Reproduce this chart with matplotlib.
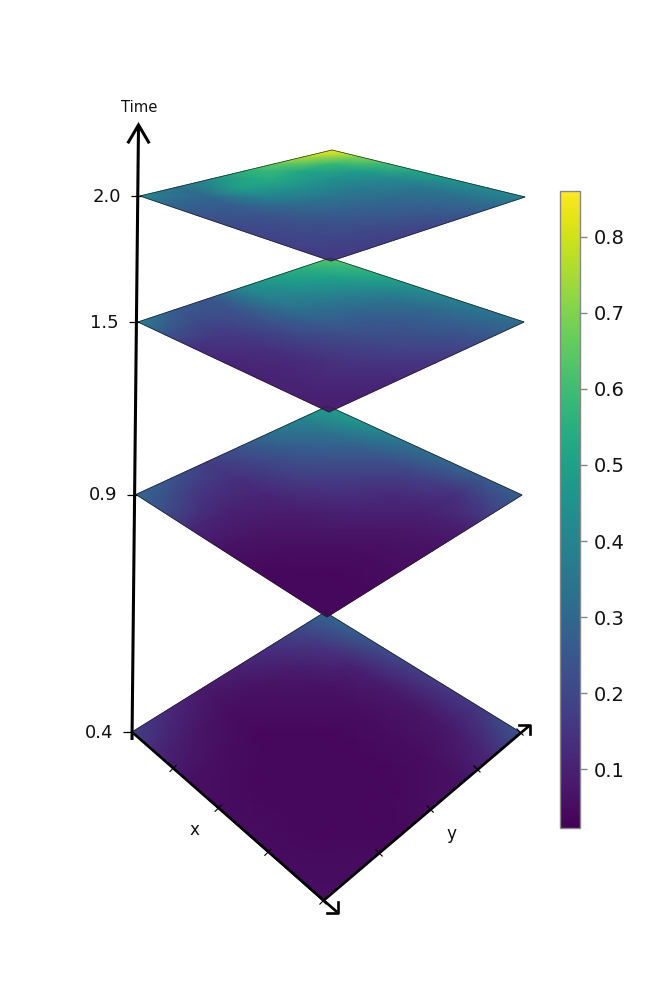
import numpy as np
import matplotlib
matplotlib.use("Agg")
import matplotlib.pyplot as plt

# ---- data ----
time_labels = ["0.4", "0.9", "1.5", "2.0"]
grid_x = [0, 1/6, 2/6, 3/6, 4/6, 5/6, 1]
grid_y = [0, 1/6, 2/6, 3/6, 4/6, 5/6, 1]
x_ticks = [0.25, 0.5, 0.75, 1.0]
y_ticks = [0.0, 0.25, 0.5, 0.75, 1.0]
cbar_ticks = [0.1, 0.2, 0.3, 0.4, 0.5, 0.6, 0.7, 0.8]
vmin, vmax = 0.0224, 0.8605

# rows: x from 0 to 1, columns: y from 0 to 1
field_04 = [[.18, .12, .08, .10, .14, .20, .30],
            [.11, .07, .05, .06, .09, .15, .27],
            [.06, .05, .04, .05, .06, .10, .22],
            [.05, .04, .04, .04, .05, .08, .18],
            [.05, .04, .04, .04, .05, .07, .16],
            [.05, .04, .04, .04, .05, .08, .16],
            [.05, .05, .04, .05, .06, .12, .24]]
field_09 = [[.30, .24, .17, .24, .33, .40, .50],
            [.22, .15, .14, .20, .27, .34, .47],
            [.11, .10, .11, .17, .22, .28, .39],
            [.06, .07, .09, .13, .17, .22, .33],
            [.04, .05, .07, .10, .12, .18, .30],
            [.04, .04, .05, .07, .10, .14, .26],
            [.04, .04, .05, .06, .09, .18, .28]]
field_15 = [[.38, .26, .24, .42, .50, .56, .64],
            [.24, .20, .24, .38, .45, .50, .58],
            [.14, .16, .23, .33, .37, .43, .52],
            [.11, .14, .20, .27, .30, .35, .44],
            [.10, .12, .17, .22, .25, .30, .39],
            [.10, .12, .15, .19, .23, .28, .35],
            [.09, .10, .12, .15, .19, .25, .32]]
field_20 = [[.42, .33, .42, .56, .66, .76, .85],
            [.30, .30, .50, .54, .52, .58, .70],
            [.24, .27, .40, .44, .44, .48, .60],
            [.21, .24, .31, .35, .37, .41, .52],
            [.19, .22, .26, .29, .32, .35, .46],
            [.18, .20, .22, .25, .28, .33, .42],
            [.16, .17, .18, .20, .24, .31, .40]]
fields = [field_04, field_09, field_15, field_20]

# pixel corners of each time slice: left, bottom, right, top
corners = [[(132, 732), (323, 901), (520, 732), (325, 612)],
           [(136, 494.5), (327, 617), (522, 495), (328, 406)],
           [(138, 322), (329, 412), (524, 322), (330, 258)],
           [(140, 196), (331, 261), (525, 197), (332, 150)]]


def homography(q):
    """unit square (x, y) -> quad: (0,0)=left (1,0)=bottom (1,1)=right (0,1)=top"""
    (x0, y0), (x1, y1), (x2, y2), (x3, y3) = q
    dx1, dx2, sx = x1 - x2, x3 - x2, x0 - x1 + x2 - x3
    dy1, dy2, sy = y1 - y2, y3 - y2, y0 - y1 + y2 - y3
    d = dx1 * dy2 - dx2 * dy1
    g = (sx * dy2 - dx2 * sy) / d
    h = (dx1 * sy - sx * dy1) / d
    return np.array([[x1 - x0 + g * x1, x3 - x0 + h * x3, x0],
                     [y1 - y0 + g * y1, y3 - y0 + h * y3, y0],
                     [g, h, 1.0]])


def project(q, x, y):
    H = homography(q)
    x, y = np.asarray(x, float), np.asarray(y, float)
    w = H[2, 0] * x + H[2, 1] * y + H[2, 2]
    return ((H[0, 0] * x + H[0, 1] * y + H[0, 2]) / w,
            (H[1, 0] * x + H[1, 1] * y + H[1, 2]) / w)


plt.rcParams['font.family'] = ['DejaVu Sans']
fig = plt.figure(figsize=(6.5, 10), dpi=100, facecolor='white')
ax = fig.add_axes([0, 0, 1, 1])
ax.set_xlim(0, 650)
ax.set_ylim(1000, 0)
ax.axis('off')

mesh = None
for q, f in zip(corners, fields):
    gx, gy = np.meshgrid(grid_x, grid_y, indexing='ij')
    px, py = project(q, gx, gy)
    mesh = ax.pcolormesh(px, py, np.array(f), shading='gouraud', cmap='viridis',
                         vmin=vmin, vmax=vmax, zorder=2, rasterized=True)
    ox = [c[0] for c in q] + [q[0][0]]
    oy = [c[1] for c in q] + [q[0][1]]
    ax.plot(ox, oy, color='#222222', lw=0.45, zorder=2.1)

base = corners[0]
K = dict(color='black', solid_capstyle='butt', zorder=5)
# time axis
ax.plot([132, 138.5], [740, 126], lw=2.2, **K)
ax.plot([128.5, 138.5, 148.5], [142, 125, 142], lw=2.2, color='black',
        solid_joinstyle='miter', zorder=5)
for q, lab in zip(corners, time_labels):
    lx, ly = q[0]
    ax.plot([lx - 9, lx + 1], [ly, ly], lw=0.9, **K)
    ax.text(lx - 19, ly + 1, lab, ha='right', va='center', fontsize=13, color='#111111')
ax.text(139, 107, "Time", ha='center', va='center', fontsize=10.6, color='#111111')

# x and y axes
ax.plot([132, 337], [732, 912], lw=1.9, **K)
ax.plot([327, 338, 338], [913, 913, 902], lw=1.9, color='black', zorder=5)
ax.plot([323, 529], [901, 726], lw=1.9, **K)
ax.plot([519, 530, 530], [725, 725, 734], lw=1.9, color='black', zorder=5)
tx, ty = project(base, x_ticks, np.zeros(len(x_ticks)))
for a, b in zip(tx, ty):
    ax.plot([a - 3.5, a + 3.5], [b + 3.5, b - 3.5], lw=0.8, **K)
tx, ty = project(base, np.ones(len(y_ticks)), y_ticks)
for a, b in zip(tx, ty):
    ax.plot([a - 3.5, a + 3.5], [b - 3.5, b + 3.5], lw=0.8, **K)
ax.text(195, 830, "x", ha='center', va='center', fontsize=12.2, color='#111111')
ax.text(451, 834, "y", ha='center', va='center', fontsize=12.2, color='#111111')

# colour bar
cax = fig.add_axes([560 / 650, 1 - 828 / 1000, 20 / 650, 637 / 1000])
cb = fig.colorbar(mesh, cax=cax, ticks=cbar_ticks)
cb.ax.tick_params(length=5, width=1, color='#888888', labelsize=14, pad=5,
                  labelcolor='#111111')
cb.outline.set_edgecolor('#888888')
cb.outline.set_linewidth(1)

fig.savefig('out.png', dpi=100)
